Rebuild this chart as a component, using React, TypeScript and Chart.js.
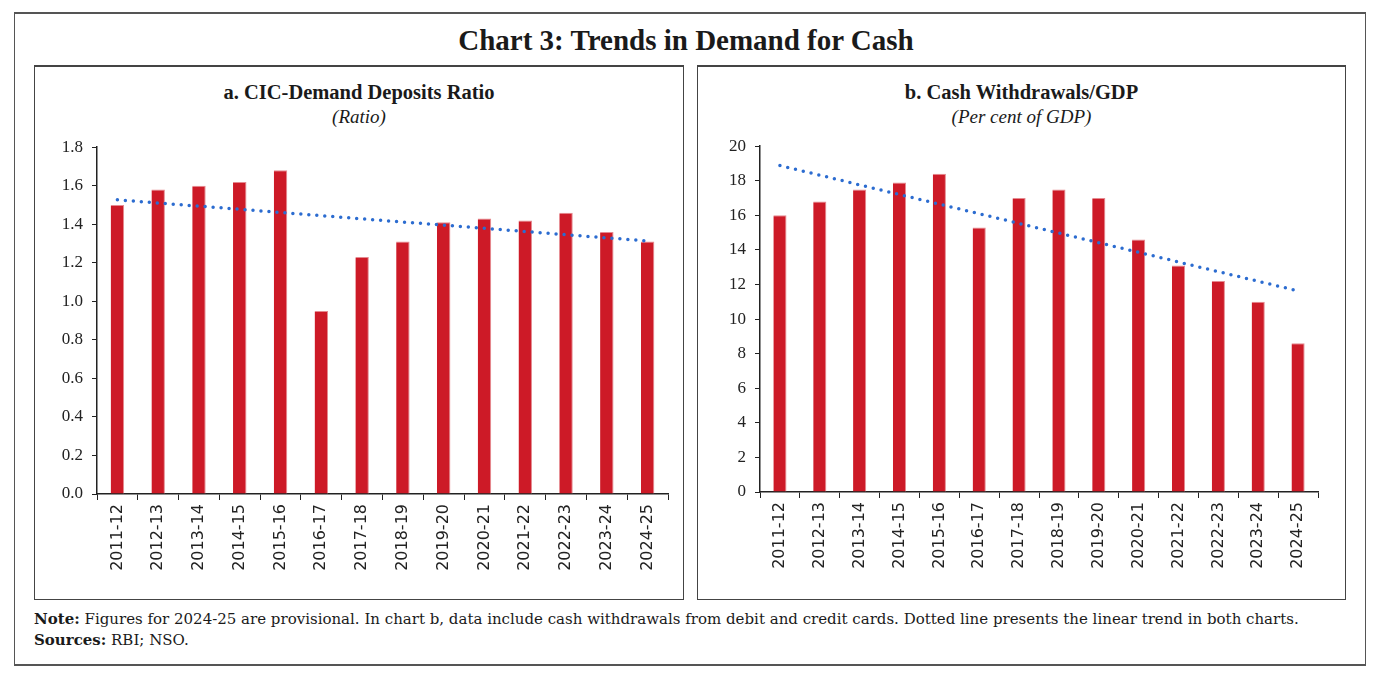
import React, { useEffect, useRef } from "react";
import { Chart, registerables } from "chart.js";

Chart.register(...registerables);

const categories = [
  "2011-12", "2012-13", "2013-14", "2014-15", "2015-16", "2016-17", "2017-18",
  "2018-19", "2019-20", "2020-21", "2021-22", "2022-23", "2023-24", "2024-25",
];
const cicRatio = [1.5, 1.58, 1.6, 1.62, 1.68, 0.95, 1.23, 1.31, 1.41, 1.43, 1.42, 1.46, 1.36, 1.31];
const cicTrendEnds = [1.527, 1.313];
const cashWithdrawals = [16.0, 16.8, 17.5, 17.9, 18.4, 15.3, 17.0, 17.5, 17.0, 14.6, 13.1, 12.2, 11.0, 8.6];
const cashTrendEnds = [18.88, 11.63];
const ratioTicks = { min: 0, max: 1.8, step: 0.2, decimals: 1 };
const gdpTicks = { min: 0, max: 20, step: 2, decimals: 0 };

const BAR_COLOR = "#cd1a27";
const TREND_COLOR = "#2c6cd0";

type PanelProps = {
  values: number[];
  trend: number[];
  ticks: { min: number; max: number; step: number; decimals: number };
  pad: { top: number; right: number; bottom: number };
  height: number;
};

function BarPanel({ values, trend, ticks, pad, height }: PanelProps) {
  const ref = useRef<HTMLCanvasElement | null>(null);
  useEffect(() => {
    if (!ref.current) return;
    const chart = new Chart(ref.current, {
      type: "bar",
      data: {
        labels: categories,
        datasets: [
          {
            type: "line",
            data: [
              { x: categories[0], y: trend[0] },
              { x: categories[categories.length - 1], y: trend[1] },
            ] as any,
            borderColor: TREND_COLOR,
            borderWidth: 3.5,
            borderDash: [0, 8],
            borderCapStyle: "round",
            pointRadius: 0,
            fill: false,
            order: 0,
          } as any,
          {
            type: "bar",
            data: values,
            backgroundColor: BAR_COLOR,
            borderColor: "#e58a90",
            borderWidth: { left: 0, right: 1, top: 1, bottom: 0 } as any,
            barPercentage: 0.33,
            categoryPercentage: 1,
            order: 1,
          },
        ],
      },
      options: {
        animation: false,
        responsive: false,
        maintainAspectRatio: false,
        layout: { padding: { left: 0, top: pad.top, right: pad.right, bottom: pad.bottom } },
        plugins: { legend: { display: false }, tooltip: { enabled: false }, title: { display: false } },
        scales: {
          x: {
            type: "category",
            offset: true,
            grid: {
              display: true,
              drawOnChartArea: false,
              drawTicks: true,
              tickLength: 6,
              color: "#222",
              offset: true,
            },
            border: { display: true, color: "#222", width: 1.5 },
            ticks: {
              minRotation: 90,
              maxRotation: 90,
              autoSkip: false,
              padding: 4,
              color: "#222",
              font: { family: "DejaVu Sans", size: 16 },
            },
            afterFit: (s: any) => {
              s.height = 90;
            },
          },
          y: {
            min: ticks.min,
            max: ticks.max,
            grid: {
              display: true,
              drawOnChartArea: false,
              drawTicks: true,
              tickLength: 5,
              color: "#222",
            },
            border: { display: true, color: "#222", width: 1.5 },
            ticks: {
              stepSize: ticks.step,
              padding: 9,
              color: "#222",
              font: { family: "Liberation Serif", size: 17 },
              callback: (v: any) => Number(v).toFixed(ticks.decimals),
            },
            afterFit: (s: any) => {
              s.width = 62;
            },
          },
        },
      },
    });
    return () => chart.destroy();
  }, []);
  return <canvas ref={ref} width={646} height={height} style={{ width: 646, height, display: "block" }} />;
}

const serif = "'Liberation Serif', 'DejaVu Serif', serif";
const noteSerif = "'DejaVu Serif', 'Liberation Serif', serif";

export default function App() {
  return (
    <div style={{ position: "absolute", left: 0, top: 0, width: 1385, height: 683, background: "#fff", fontFamily: serif, color: "#1a1a1a" }}>
      <div style={{ position: "absolute", left: 14, top: 12, width: 1350, height: 650, border: "1px solid #555", borderTopWidth: 2, borderBottomWidth: 2 }} />
      <div style={{ position: "absolute", left: 0, width: 1372, top: 24, textAlign: "center", fontWeight: "bold", fontSize: 29 }}>
        Chart 3: Trends in Demand for Cash
      </div>

      {/* Panel a */}
      <div style={{ position: "absolute", left: 34, top: 65, width: 648, height: 532, border: "1px solid #444", borderTopWidth: 2 }} />
      <div style={{ position: "absolute", left: 34, width: 650, top: 81, textAlign: "center", fontWeight: "bold", fontSize: 20.5 }}>
        a. CIC-Demand Deposits Ratio
      </div>
      <div style={{ position: "absolute", left: 34, width: 650, top: 106, textAlign: "center", fontStyle: "italic", fontSize: 19 }}>
        (Ratio)
      </div>
      <div style={{ position: "absolute", left: 35, top: 128 }}>
        <BarPanel values={cicRatio} trend={cicTrendEnds} ticks={ratioTicks} pad={{ top: 7, right: 13, bottom: 11 }} height={467} />
      </div>

      {/* Panel b */}
      <div style={{ position: "absolute", left: 697, top: 65, width: 647, height: 532, border: "1px solid #444", borderTopWidth: 2 }} />
      <div style={{ position: "absolute", left: 697, width: 649, top: 81, textAlign: "center", fontWeight: "bold", fontSize: 20.5 }}>
        b. Cash Withdrawals/GDP
      </div>
      <div style={{ position: "absolute", left: 697, width: 649, top: 106, textAlign: "center", fontStyle: "italic", fontSize: 19 }}>
        (Per cent of GDP)
      </div>
      <div style={{ position: "absolute", left: 698, top: 127 }}>
        <BarPanel values={cashWithdrawals} trend={cashTrendEnds} ticks={gdpTicks} pad={{ top: 5, right: 26, bottom: 13 }} height={468} />
      </div>

      <div style={{ position: "absolute", left: 34, top: 609, fontSize: 15, lineHeight: "21px", fontFamily: noteSerif, whiteSpace: "nowrap" }}>
        <div><b>Note:</b> Figures for 2024-25 are provisional. In chart b, data include cash withdrawals from debit and credit cards. Dotted line presents the linear trend in both charts.</div>
        <div><b>Sources:</b> RBI; NSO.</div>
      </div>
    </div>
  );
}
